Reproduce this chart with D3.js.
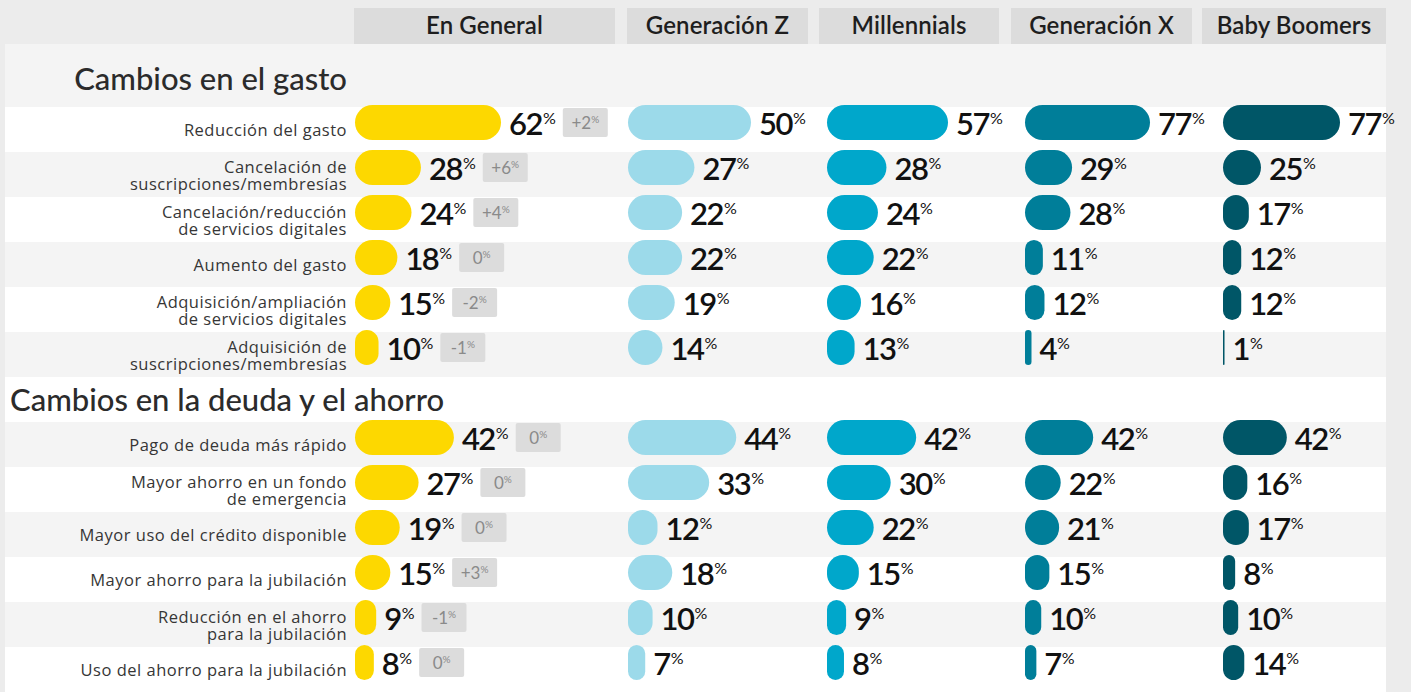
<!DOCTYPE html>
<html>
<head>
<meta charset="utf-8">
<script src="https://cdn.jsdelivr.net/npm/d3@7"></script>
<style>
  body { margin: 0; background: #ececec; }
  svg { display: block; font-family: Lato, "Open Sans", sans-serif; }
</style>
</head>
<body>
<div id="chart"></div>
<script>
// data
const sections = ["Cambios en el gasto", "Cambios en la deuda y el ahorro"];
const labelsGasto = [
  "Reducción del gasto",
  "Cancelación de\nsuscripciones/membresías",
  "Cancelación/reducción\nde servicios digitales",
  "Aumento del gasto",
  "Adquisición/ampliación\nde servicios digitales",
  "Adquisición de\nsuscripciones/membresías"
];
const labelsDeuda = [
  "Pago de deuda más rápido",
  "Mayor ahorro en un fondo\nde emergencia",
  "Mayor uso del crédito disponible",
  "Mayor ahorro para la jubilación",
  "Reducción en el ahorro\npara la jubilación",
  "Uso del ahorro para la jubilación"
];
const groups = ["En General", "Generación Z", "Millennials", "Generación X", "Baby Boomers"];
const general     = [62, 28, 24, 18, 15, 10, 42, 27, 19, 15, 9, 8];
const generalDiff = ["+2", "+6", "+4", "0", "-2", "-1", "0", "0", "0", "+3", "-1", "0"];
const genZ        = [50, 27, 22, 22, 19, 14, 44, 33, 12, 18, 10, 7];
const millennials = [57, 28, 24, 22, 16, 13, 42, 30, 22, 15, 9, 8];
const genX        = [77, 29, 28, 11, 12, 4, 42, 22, 21, 15, 10, 7];
const boomers     = [77, 25, 17, 12, 12, 1, 42, 16, 17, 8, 10, 14];
const colors = ["#fdd800", "#9cdaea", "#00a7cb", "#007e99", "#005667"];

const seriesList = [general, genZ, millennials, genX, boomers];

// layout
const width = 1411, height = 692;
const headerX = [354, 627, 819, 1011, 1202];
const headerW = [261, 181, 180, 181, 184];
const barX = [355, 628, 827, 1025, 1223];
const barMaxW = [146, 123, 121, 125, 117];
const labelRight = 347;

const svg = d3.select("#chart").append("svg")
    .attr("width", width)
    .attr("height", height);

svg.append("rect").attr("width", width).attr("height", height).attr("fill", "#ececec");
// panel
svg.append("rect")
    .attr("x", 5).attr("y", 44)
    .attr("width", 1381).attr("height", height - 44)
    .attr("fill", "#f4f4f4");

// row keys: 6 rows, section title row, 6 rows
const rowKeys = labelsGasto.map((d, i) => "a" + i)
    .concat(["title2"])
    .concat(labelsDeuda.map((d, i) => "b" + i));
const y = d3.scaleBand().domain(rowKeys).range([107, 692]);

// alternating stripes
svg.append("g").selectAll("rect")
    .data(rowKeys)
    .join("rect")
    .attr("x", 5)
    .attr("y", d => y(d))
    .attr("width", 1381)
    .attr("height", y.bandwidth())
    .attr("fill", (d, i) => i % 2 === 0 ? "#ffffff" : "#f4f4f4");

// headers
let headers = svg.append("g");
groups.forEach(function(g, i) {
    headers.append("rect")
        .attr("x", headerX[i]).attr("y", 8)
        .attr("width", headerW[i]).attr("height", 36)
        .attr("fill", "#dcdcdc");
    headers.append("text")
        .attr("x", headerX[i] + headerW[i] / 2)
        .attr("y", 34)
        .attr("text-anchor", "middle")
        .style("font-size", "24px")
        .style("font-weight", 600)
        .style("letter-spacing", "0.1px")
        .attr("fill", "#1e1e1e")
        .text(g);
});

// section titles
svg.append("text")
    .attr("x", labelRight).attr("y", 90)
    .attr("text-anchor", "end")
    .style("font-size", "31px")
    .style("font-weight", 500)
    .attr("fill", "#2b2b2b")
    .text(sections[0]);
svg.append("text")
    .attr("x", 10).attr("y", y("title2") + 34)
    .style("font-size", "31px")
    .style("font-weight", 500)
    .attr("fill", "#2b2b2b")
    .text(sections[1]);

// row labels
const allLabels = labelsGasto.concat(labelsDeuda);
const rowOf = i => i < 6 ? "a" + i : "b" + (i - 6);

allLabels.forEach(function(lab, i) {
    let lines = lab.split("\n");
    let top = y(rowOf(i));
    let t = svg.append("text")
        .attr("text-anchor", "end")
        .style("font-family", "'Open Sans', sans-serif")
        .style("font-size", "16.5px")
        .style("letter-spacing", "0.5px")
        .attr("fill", "#363636");
    lines.forEach(function(line, k) {
        t.append("tspan")
            .attr("x", labelRight)
            .attr("y", lines.length === 1 ? top + 29 : top + 20.5 + k * 17)
            .text(line);
    });
});

// bars
const barH = 35;
seriesList.forEach(function(values, c) {
    let x = d3.scaleLinear()
        .domain([0, d3.max(values)])
        .range([0, barMaxW[c]]);
    let col = svg.append("g");
    values.forEach(function(v, i) {
        let top = y(rowOf(i)) - 2;
        let w = Math.max(x(v), 1.5);
        let r = Math.min(w / 2, barH / 2);
        col.append("rect")
            .attr("x", barX[c])
            .attr("y", top)
            .attr("width", w)
            .attr("height", barH)
            .attr("rx", r)
            .attr("ry", r)
            .attr("fill", colors[c]);
        let lx = barX[c] + w + 8;
        let lbl = col.append("text")
            .attr("x", lx)
            .attr("y", top + barH / 2 + 12)
            .attr("fill", "#111");
        lbl.append("tspan")
            .style("font-size", "31px")
            .style("font-weight", 600)
            .style("letter-spacing", "-1.5px")
            .text(v);
        lbl.append("tspan")
            .attr("dx", 1)
            .attr("dy", -11)
            .style("font-size", "16px")
            .text("%");

        if (c === 0) {
            let bx = lx + lbl.node().getComputedTextLength() + 8;
            col.append("rect")
                .attr("x", bx)
                .attr("y", top + 3)
                .attr("width", 45)
                .attr("height", 29)
                .attr("rx", 2)
                .attr("fill", "#dcdcdc");
            let d = col.append("text")
                .attr("x", bx + 22.5)
                .attr("y", top + 24)
                .attr("text-anchor", "middle")
                .attr("fill", "#8a8a8a");
            d.append("tspan")
                .style("font-size", "17px")
                .text(generalDiff[i]);
            d.append("tspan")
                .attr("dy", -6)
                .style("font-size", "10px")
                .text("%");
        }
    });
});
</script>
</body>
</html>
